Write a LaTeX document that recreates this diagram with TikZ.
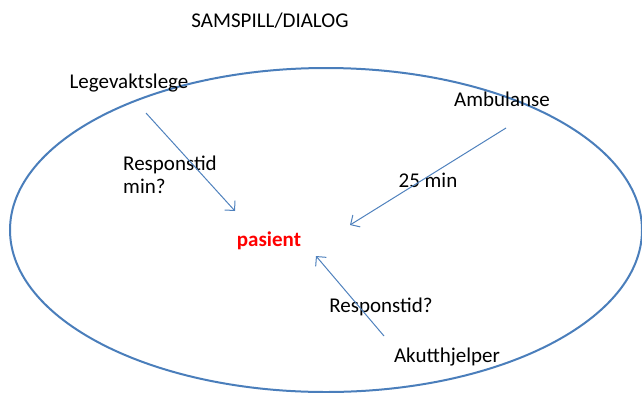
\documentclass[tikz,border=0pt]{standalone}
\usepackage{fontspec}
\setmainfont{Carlito}
\usetikzlibrary{arrows.meta}
\definecolor{ovalblue}{RGB}{74,126,187}
\definecolor{pilblue}{RGB}{79,129,189}
\newcommand{\txtsize}{\fontsize{10.5}{11.5}\selectfont}

\begin{document}
\begin{tikzpicture}[x=0.5pt,y=-0.5pt]
                \useasboundingbox (0,0) rectangle (642,392);
                \draw[ovalblue,line width=1pt] (326,230) ellipse [x radius=316,y radius=162];

                \begin{scope}[every node/.style={font=\txtsize,inner sep=0pt}]
                    \node (title) at (270,21) {SAMSPILL/DIALOG};
                    \node (lege) at (129,83) {Legevaktslege};
                    \node (amb) at (502,99) {Ambulanse};
                    \node (akutt) at (447,357) {Akutthjelper};
                    \node[text=red,font=\txtsize\bfseries] (pas) at (269,241) {pasient};
                    \node[align=left] (rtlege) at (170,175) {Responstid\\min?};
                    \node (tidamb) at (428,180) {25 min};
                    \node (rtakutt) at (381,307) {Responstid?};
                \end{scope}

                \coordinate (legeS) at (146,113);
                \coordinate (ambS) at (506,128);
                \coordinate (akuttN) at (384,336);
                \coordinate (pasNW) at (235,211);
                \coordinate (pasNE) at (350,225);
                \coordinate (pasSE) at (316,256);

                \begin{scope}[>={Straight Barb[length=3.5pt,width=7pt]},
                    every edge/.style={draw=pilblue,line width=0.5pt}]
                    \path [->] (legeS) edge node {} (pasNW);
                    \path [->] (ambS) edge node {} (pasNE);
                    \path [->] (akuttN) edge node {} (pasSE);
                \end{scope}
            \end{tikzpicture}
\end{document}
